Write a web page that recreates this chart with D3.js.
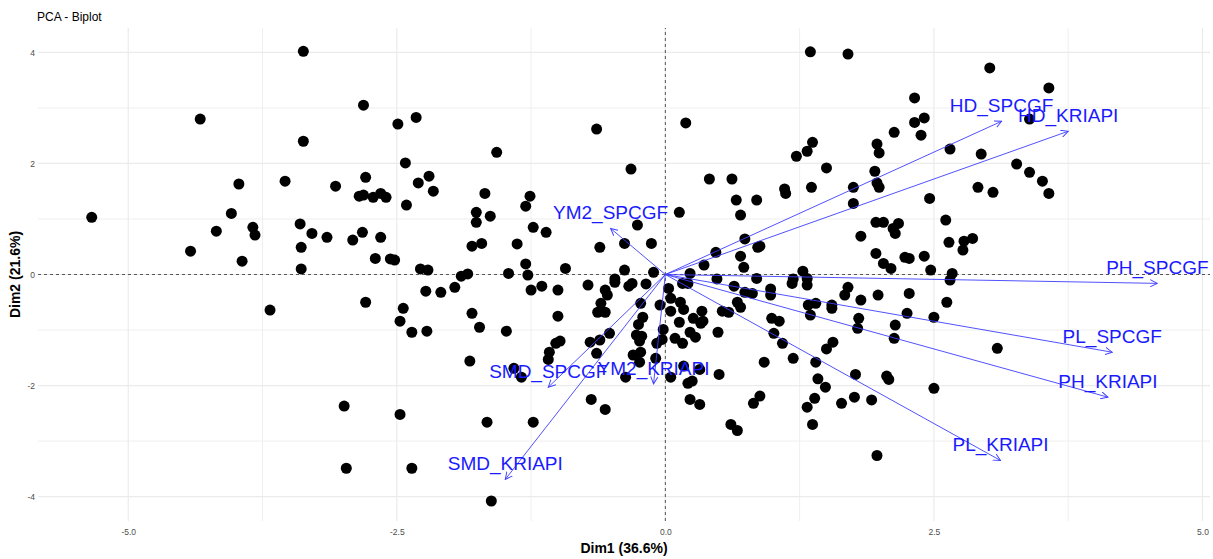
<!DOCTYPE html>
<html lang="en">

<head>
    <meta charset="UTF-8">
    <title>PCA - Biplot</title>
    <script src="https://d3js.org/d3.v7.min.js"></script>
    <style>
        body {
            margin: 0;
            background: white;
            font-family: "Liberation Sans", Arial, Helvetica, sans-serif;
        }
    </style>
</head>

<body>
    <svg id="vis"></svg>
    <script>
        const width = 1213;
        const height = 559;

        // individual scores (Dim1, Dim2)
        const individuals = [
            [-5.34, 1.03], [-4.33, 2.80], [-4.42, 0.42], [-4.18, 0.78], [-4.04, 1.10], [-3.97, 1.63], [-3.94, 0.24],
            [-3.84, 0.85], [-3.82, 0.71], [-3.54, 1.68], [-3.37, 4.02], [-3.37, 2.40], [-3.40, 0.91], [-3.39, 0.49],
            [-3.39, 0.10], [-3.29, 0.74], [-3.15, 0.67], [-3.07, 1.59], [-2.81, 3.05], [-2.79, 1.75], [-2.85, 1.41],
            [-2.81, 1.43], [-2.72, 1.39], [-2.65, 1.46], [-2.60, 1.39], [-2.82, 0.76], [-2.91, 0.62], [-2.65, 0.67],
            [-2.70, 0.29], [-2.56, 0.28], [-2.52, 0.26], [-2.49, 2.71], [-2.32, 2.83], [-2.42, 2.01], [-2.41, 1.25],
            [-2.30, 1.65], [-2.20, 1.77], [-2.16, 1.50], [-2.28, 0.10], [-2.21, 0.08], [-3.68, -0.64], [-2.79, -0.50],
            [-2.44, -0.61], [-2.47, -0.84], [-2.36, -1.04], [-2.22, -1.02], [-2.23, -0.30], [-2.99, -2.37], [-2.47, -2.52],
            [-2.97, -3.49], [-2.36, -3.49],
            [-2.09, -0.32], [-1.96, -0.23], [-1.90, -0.03], [-1.84, 0.01], [-1.80, 0.51], [-1.71, 0.56], [-1.76, 1.12],
            [-1.76, 0.94], [-1.80, -0.70], [-1.73, -0.95], [-1.68, 1.46], [-1.63, 1.05], [-1.57, 2.20], [-1.48, -1.02],
            [-1.46, 0.02], [-1.38, 0.55], [-1.30, 0.19], [-1.28, -0.01], [-1.30, 1.23], [-1.26, 1.41], [-1.25, -0.28],
            [-1.23, 0.85], [-1.15, -0.21], [-1.11, 0.76], [-1.00, -0.28], [-1.00, -0.75], [-0.93, 0.11], [-0.72, -0.19],
            [-0.61, 0.49], [-0.64, 2.62], [-1.82, -1.56], [-1.41, -1.69], [-1.34, -1.85], [-1.08, -1.40], [-1.09, -1.53],
            [-1.02, -1.24], [-0.98, -1.20], [-0.70, -1.22], [-0.61, -1.18], [-0.64, -1.42], [-1.66, -2.66], [-1.23, -2.66],
            [-1.62, -4.08], [-0.69, -2.25], [-0.56, -2.43], [-0.60, -0.52], [-0.63, -0.68], [-0.56, -0.68], [-0.52, -1.06],
            [-0.56, -0.28], [-0.54, -0.37], [-0.47, -0.14], [-0.47, -0.08], [-0.34, -0.21], [-0.31, -0.16], [-0.18, -0.17],
            [-0.38, 0.08], [-0.11, 0.04], [-0.38, 0.56], [-0.13, 0.56], [-0.26, 0.89], [-0.32, 1.90], [0.13, 1.12],
            [0.19, 2.73], [-0.23, -0.52], [-0.05, -0.55], [0.03, -0.25], [0.05, -0.43], [0.14, -0.50], [0.17, -0.63],
            [0.13, -0.86], [0.05, -0.66], [-0.02, -0.99], [-0.21, -0.77], [-0.25, -0.90], [-0.27, -1.09], [-0.22, -1.11],
            [-0.24, -1.20], [-0.08, -1.24], [-0.03, -1.17], [0.09, -1.15], [0.16, -1.24], [0.23, -1.04], [0.28, -1.13],
            [0.26, -0.79], [0.33, -0.88], [0.35, -0.84], [-0.30, -1.45], [-0.23, -1.40], [-0.24, -1.58], [-0.37, -1.85],
            [-0.09, -1.51], [0.05, -1.85], [0.17, -1.65], [0.32, -1.71], [0.21, -1.96], [0.25, -1.92], [0.23, -2.25],
            [0.32, -2.34], [0.49, -1.04], [0.50, -1.80], [0.23, 0.02], [0.16, -0.16], [0.21, -0.16], [0.36, 0.17],
            [0.47, 0.40], [0.48, -0.08], [0.64, -0.21], [0.34, -0.66], [0.53, -0.66], [0.59, -0.68], [0.67, -0.50],
            [0.70, -0.59],
            [1.35, 4.01], [1.70, 3.97], [2.32, 3.18], [2.32, 2.74], [2.41, 2.82], [2.38, 2.51], [2.13, 2.56], [1.97, 2.35],
            [1.99, 2.19], [1.37, 2.38], [1.32, 2.22], [1.22, 2.13], [1.50, 1.92], [1.95, 1.86], [1.97, 1.65], [1.99, 1.57],
            [1.75, 1.57], [1.75, 1.28], [1.36, 1.57], [1.11, 1.54], [1.12, 1.46], [0.41, 1.72], [0.62, 1.72], [0.66, 1.34],
            [0.85, 1.34], [0.70, 1.07], [2.46, 1.37], [2.65, 2.26], [1.96, 0.94], [2.03, 0.94], [2.12, 0.83], [2.17, 0.92],
            [2.14, 0.74], [1.82, 0.69], [2.61, 0.98], [2.64, 0.58], [2.78, 0.60], [2.77, 0.44], [2.86, 0.65], [0.74, 0.64],
            [0.70, 0.33], [0.86, 0.49], [0.88, 0.51], [1.96, 0.38], [2.23, 0.31], [2.27, 0.29], [2.41, 0.33], [0.73, 0.13],
            [0.85, -0.07], [0.74, -0.32], [0.81, -0.34], [0.98, -0.26], [0.98, -0.37], [0.99, -0.79], [1.06, -0.84],
            [1.01, -1.06], [1.09, -1.24], [0.92, -1.58], [1.19, -1.51], [1.28, 0.06], [1.18, -0.16], [1.19, -0.08],
            [1.32, -0.07], [1.32, -0.19], [1.33, -0.55], [1.40, -0.52], [1.35, -0.73], [1.55, -0.55], [1.55, -0.61],
            [1.67, -0.37], [1.70, -0.23], [1.82, -0.46], [1.98, -0.37], [1.80, -0.79], [1.79, -0.97], [1.56, -1.22],
            [1.50, -1.34], [1.40, -1.58], [1.42, -1.88], [1.49, -2.03], [1.39, -2.23], [1.32, -2.39], [1.37, -2.70],
            [1.77, -1.80], [1.76, -2.21], [1.92, -2.26], [1.64, -2.32], [2.06, -1.83], [2.08, -1.89], [2.14, -0.91],
            [2.13, -1.15], [2.25, -0.70], [2.27, -0.34], [2.03, 0.20], [2.10, 0.11], [2.47, 0.08], [2.67, 0.02],
            [2.65, -0.10], [2.62, -0.50], [2.50, -0.77], [2.50, -2.05], [0.82, -2.32], [0.88, -2.19], [0.61, -2.70],
            [0.67, -2.81], [1.97, -3.26],
            [3.02, 3.72], [3.57, 3.36], [3.39, 2.80], [2.94, 2.17], [3.27, 1.99], [3.39, 1.84], [3.51, 1.68], [3.57, 1.46],
            [2.91, 1.57], [3.05, 1.48], [3.09, -1.33]
        ];

        // variable loadings (scaled arrows)
        const varNames = ["HD_SPCGF", "HD_KRIAPI", "PH_SPCGF", "PL_SPCGF", "PH_KRIAPI",
            "PL_KRIAPI", "SMD_KRIAPI", "SMD_SPCGF", "YM2_KRIAPI", "YM2_SPCGF"];
        const varDim1 = [3.13, 3.75, 4.58, 4.16, 4.12, 3.12, -1.49, -1.09, -0.11, -0.51];
        const varDim2 = [2.76, 2.58, -0.16, -1.40, -2.21, -3.35, -3.69, -2.03, -1.97, 0.83];

        const xTicks = [-5, -2.5, 0, 2.5, 5];
        const xMinor = [-3.75, -1.25, 1.25, 3.75];
        const yTicks = [-4, -2, 0, 2, 4];
        const yMinor = [-3, -1, 1, 3];
        const xTitle = "Dim1 (36.6%)";
        const yTitle = "Dim2 (21.6%)";
        const title = "PCA - Biplot";

        const margin = { top: 28, right: 3, bottom: 38, left: 38 };

        const svg = d3.select("#vis")
            .attr("width", width)
            .attr("height", height);

        svg.append("rect").attr("width", width).attr("height", height).attr("fill", "white");

        const x = d3.scaleLinear()
            .domain([-5.84, 5.07])
            .range([margin.left, width - margin.right]);
        const y = d3.scaleLinear()
            .domain([-4.44, 4.44])
            .range([height - margin.bottom, margin.top]);

        // grid
        const grid = svg.append("g");
        grid.selectAll(".vmin").data(xMinor).join("line")
            .attr("x1", d => x(d)).attr("x2", d => x(d))
            .attr("y1", y.range()[0]).attr("y2", y.range()[1])
            .attr("stroke", "#efefef").attr("stroke-width", 1);
        grid.selectAll(".hmin").data(yMinor).join("line")
            .attr("y1", d => y(d)).attr("y2", d => y(d))
            .attr("x1", x.range()[0]).attr("x2", x.range()[1])
            .attr("stroke", "#efefef").attr("stroke-width", 1);
        grid.selectAll(".vmaj").data(xTicks).join("line")
            .attr("x1", d => x(d)).attr("x2", d => x(d))
            .attr("y1", y.range()[0]).attr("y2", y.range()[1])
            .attr("stroke", "#ebebeb").attr("stroke-width", 1.2);
        grid.selectAll(".hmaj").data(yTicks).join("line")
            .attr("y1", d => y(d)).attr("y2", d => y(d))
            .attr("x1", x.range()[0]).attr("x2", x.range()[1])
            .attr("stroke", "#ebebeb").attr("stroke-width", 1.2);

        // axes (text only, theme_minimal style)
        const xAxis = svg.append("g")
            .attr("transform", `translate(0,${y.range()[0] + 2})`)
            .call(d3.axisBottom(x).tickValues(xTicks).tickFormat(d3.format(".1f")).tickSize(0).tickPadding(6));
        const yAxis = svg.append("g")
            .attr("transform", `translate(${margin.left - 3},0)`)
            .call(d3.axisLeft(y).tickValues(yTicks).tickFormat(d3.format("d")).tickSize(0).tickPadding(0));
        [xAxis, yAxis].forEach(a => {
            a.select(".domain").remove();
            a.selectAll("text")
                .attr("fill", "#4d4d4d")
                .style("font-size", "8.5px")
                .style("font-family", "'Liberation Sans', Arial, sans-serif");
        });
        // plain hyphen for negative labels, as in the original
        xAxis.selectAll("text").text(d => d3.format(".1f")(d).replace("\u2212", "-"));
        yAxis.selectAll("text").text(d => d3.format("d")(d).replace("\u2212", "-"));

        // reference lines
        svg.append("line")
            .attr("x1", x.range()[0]).attr("x2", x.range()[1])
            .attr("y1", y(0)).attr("y2", y(0))
            .attr("stroke", "#555").attr("stroke-width", 1).attr("stroke-dasharray", "3,3");
        svg.append("line")
            .attr("x1", x(0)).attr("x2", x(0))
            .attr("y1", y.range()[0]).attr("y2", y.range()[1])
            .attr("stroke", "#555").attr("stroke-width", 1).attr("stroke-dasharray", "3,3");

        // individuals
        svg.append("g").selectAll("circle")
            .data(individuals)
            .join("circle")
            .attr("cx", d => x(d[0]))
            .attr("cy", d => y(d[1]))
            .attr("r", 5.5)
            .attr("fill", "black");

        // arrows
        svg.append("defs").append("marker")
            .attr("id", "arrowhead")
            .attr("viewBox", "0 -5 10 10")
            .attr("refX", 9)
            .attr("refY", 0)
            .attr("markerUnits", "userSpaceOnUse")
            .attr("markerWidth", 8)
            .attr("markerHeight", 8)
            .attr("orient", "auto")
            .append("path")
            .attr("d", "M0,-4.5L9,0L0,4.5")
            .attr("fill", "none")
            .attr("stroke", "#3d3dff")
            .attr("stroke-width", 1.2);

        const vars = varNames.map((name, i) => ({ name, d1: varDim1[i], d2: varDim2[i] }));

        svg.append("g").selectAll("line")
            .data(vars)
            .join("line")
            .attr("x1", x(0)).attr("y1", y(0))
            .attr("x2", d => x(d.d1)).attr("y2", d => y(d.d2))
            .attr("stroke", "#3d3dff")
            .attr("stroke-width", 0.9)
            .attr("marker-end", "url(#arrowhead)");

        svg.append("g").selectAll("text")
            .data(vars)
            .join("text")
            .attr("x", d => x(d.d1))
            .attr("y", d => y(d.d2) - 9)
            .attr("text-anchor", "middle")
            .attr("fill", "#1a1aff")
            .style("font-size", "19px")
            .text(d => d.name);

        // titles
        svg.append("text")
            .attr("x", 37).attr("y", 21)
            .style("font-size", "12px")
            .attr("fill", "black")
            .text(title);
        svg.append("text")
            .attr("x", (x.range()[0] + x.range()[1]) / 2)
            .attr("y", 553)
            .attr("text-anchor", "middle")
            .style("font-size", "14px")
            .style("font-weight", "bold")
            .text(xTitle);
        svg.append("text")
            .attr("transform", `translate(20,${(y.range()[0] + y.range()[1]) / 2}) rotate(-90)`)
            .attr("text-anchor", "middle")
            .style("font-size", "14px")
            .style("font-weight", "bold")
            .text(yTitle);
    </script>
</body>

</html>
